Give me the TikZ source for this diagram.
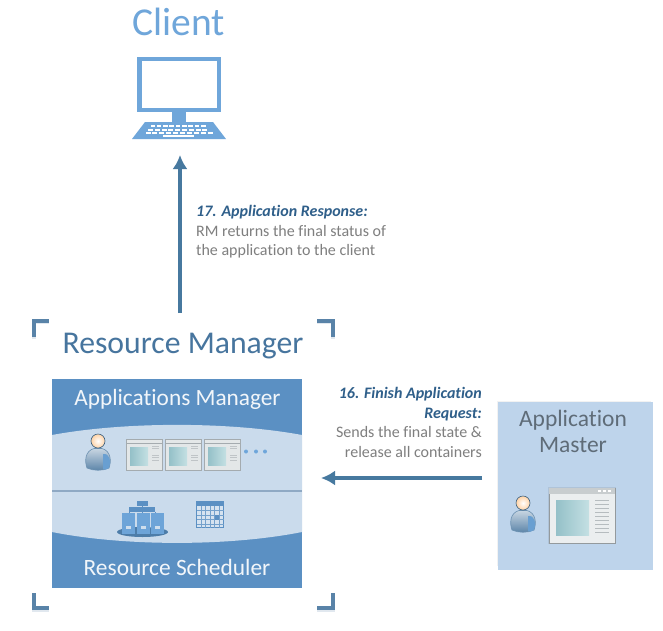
\documentclass[tikz,border=0pt]{standalone}
\usepackage{fontspec}
\setmainfont{Carlito}[Ligatures=NoCommon]
\usetikzlibrary{arrows.meta,shadings}
\definecolor{clientblue}{HTML}{6FA6DA}
\definecolor{rmtext}{HTML}{47759E}
\definecolor{boxblue}{HTML}{5B90C3}
\definecolor{boxlight}{HTML}{CADBEC}
\definecolor{divline}{HTML}{8FA9C4}
\definecolor{arrowblue}{HTML}{47799F}
\definecolor{amfill}{HTML}{BED4EB}
\definecolor{headtext}{HTML}{2F5F8A}
\definecolor{greytext}{HTML}{7F7F7F}
\definecolor{amtext}{HTML}{5F6C78}
\definecolor{winbg}{HTML}{E3E7E8}
\definecolor{winedge}{HTML}{A4ABAF}
\definecolor{tealdark}{HTML}{94C0C8}
\definecolor{teallight}{HTML}{C4E0E3}
\tikzset{
  bracket/.style={draw=rmtext!90,line width=3.6pt,line cap=butt,line join=miter},
  bracketshade/.style={draw=rmtext,line width=3.6pt,opacity=.16},
  flow/.style={draw=arrowblue,line width=3.6pt,-{Latex[length=14pt,width=15pt]}},
  callout/.style={inner sep=0pt,font=\fontsize{16}{19.6}\selectfont,text=greytext},
  person/.pic={
    \shade[draw=rmtext!80,line width=.6pt,top color=white!70!rmtext,bottom color=rmtext!90]
      (-11,27) .. controls (-13.5,20) and (-13,10) .. (-4,7.5) -- (4,7.5)
      .. controls (13,10) and (13.5,20) .. (11,27) .. controls (4,30) and (-4,30) .. (-11,27) -- cycle;
    \fill[clientblue!85!rmtext] (5,13) .. controls (12,12) and (13.5,21) .. (11,27) .. controls (9,29) and (6,29) .. (5,28) -- cycle;
    \shade[draw=rmtext!80!black,line width=.6pt,inner color=white,outer color=orange!35!white]
      (0,0) circle (7);
  },
  smallwin/.pic={
    \fill[black,opacity=.08] (-.5,-.5) rectangle (36.5,31.5);
    \filldraw[draw=winedge,fill=winbg,line width=.8pt] (0,0) rectangle (36,31);
    \draw[winedge,line width=.5pt] (0,4) -- (36,4);
    \shade[left color=tealdark,right color=teallight] (4,8) rectangle (22,26);
    \foreach \yy in {7,9.5,16,18.5,21}{\draw[winedge!70,line width=.7pt] (26,\yy) -- (33,\yy);}
  }
}
\begin{document}
\begin{tikzpicture}[x=1pt,y=-1pt]
\useasboundingbox (0,0) rectangle (663,630);
\fill[white] (0,0) rectangle (663,630);
% client
\node[inner sep=0pt,text=clientblue,font=\fontsize{39.5}{39}\selectfont] (clienttitle) at (178.5,22) {Client};
\filldraw[draw=clientblue,fill=white,line width=4.5pt,line join=miter] (139.5,59) rectangle (219,110);
\fill[clientblue] (172,112) rectangle (186,122);
\fill[clientblue] (145,122) -- (213,122) -- (226,139) -- (132,139) -- cycle;
\foreach \xx in {0,...,8}{
  \fill[white] (150.5+\xx*6.3,125) rectangle ++(4.6,2.2);
  \fill[white] (148+\xx*6.8,128.5) rectangle ++(5,2.2);
}
\foreach \xx in {0,...,9}{\fill[white] (145.5+\xx*6.9,132) rectangle ++(5,2);}
\fill[white] (163,135) rectangle (194,137);
\coordinate (clientbase) at (180,155);
% resource manager
\node[inner sep=0pt,text=rmtext,font=\fontsize{31.7}{32}\selectfont] (rmtitle) at (183,346) {Resource Manager};
\coordinate (rmtop) at (180,313);
\foreach \dy in {1.6}{
  \draw[bracketshade] (33.8,337+\dy) -- (33.8,320.8+\dy) -- (49,320.8+\dy);
  \draw[bracketshade] (317,320.8+\dy) -- (333.2,320.8+\dy) -- (333.2,337+\dy);
  \draw[bracketshade] (33.8,593+\dy) -- (33.8,608.2+\dy) -- (49,608.2+\dy);
  \draw[bracketshade] (317,608.2+\dy) -- (333.2,608.2+\dy) -- (333.2,593+\dy);
}
\draw[bracket] (33.8,337) -- (33.8,320.8) -- (49,320.8);
\draw[bracket] (317,320.8) -- (333.2,320.8) -- (333.2,337);
\draw[bracket] (33.8,593) -- (33.8,608.2) -- (49,608.2);
\draw[bracket] (317,608.2) -- (333.2,608.2) -- (333.2,593);
% rm box
\fill[boxblue] (52,379) rectangle (302,588);
\fill[boxlight] (52,435) .. controls (125,421.5) and (229,421.5) .. (302,435)
  -- (302,532) .. controls (229,546.5) and (125,546.5) .. (52,532) -- cycle;
\draw[divline,line width=1.3pt] (52,491) -- (302,491);
\node[inner sep=0pt,text=white!92!boxblue,font=\fontsize{23.3}{24}\selectfont] (apps) at (177.5,399) {Applications Manager};
\node[inner sep=0pt,text=white!92!boxblue,font=\fontsize{23.4}{24}\selectfont] (sched) at (177,567) {Resource Scheduler};
\pic at (98,441) {person};
\pic at (126,439) {smallwin};
\pic at (165,439) {smallwin};
\pic at (204,439) {smallwin};
\foreach \xx in {246,256,265}{\fill[clientblue] (\xx,451.5) circle (2);}
% servers
\fill[rmtext!70!boxblue] (142.5,532) ellipse (25.5 and 5);
\draw[boxblue,line width=1pt] (142,504) -- (142,512) (129,512) -- (129,516) (155,512) -- (155,516) (142,512) -- (142,516);
\fill[boxblue] (137,501) rectangle (148,506);
\fill[boxblue] (129,507) rectangle (155,512);
\foreach \xx in {122,137,151}{
  \fill[clientblue!90!boxblue] (\xx,513) rectangle ++(12.5,21);
  \fill[white!70!boxblue] (\xx+3.5,526) rectangle ++(5.5,3);
}
% calendar
\filldraw[draw=boxblue,fill=white!75!boxblue,line width=1.5pt] (196.5,502) rectangle (223.5,527.5);
\fill[boxblue] (196.5,502) rectangle (223.5,506);
\foreach \xx in {201,205.5,210,214.5,219}{\draw[boxblue!85,line width=.7pt] (\xx,506) -- (\xx,527.5);}
\foreach \yy in {510.5,515,519.5,524}{\draw[boxblue!85,line width=.7pt] (196.5,\yy) -- (223.5,\yy);}
\fill[boxblue] (214.5,515) rectangle (219,519.5);
% application master
\fill[black!5] (497,400.5) rectangle (651,566);
\fill[amfill] (498,402) rectangle (653,570);
\node[inner sep=0pt,align=center,text=amtext,font=\fontsize{23.5}{26}\selectfont] (am) at (573,431) {Application\\Master};
\coordinate (amleft) at (482,478);
\coordinate (rmright) at (321,478);
\pic at (523,503) {person};
\fill[black,opacity=.08] (548,487) rectangle (616,544);
\filldraw[draw=winedge!90!black,fill=winbg!70!white,line width=1pt] (549,488) rectangle (615,543);
\fill[winedge!60] (549,488) rectangle (615,494);
\foreach \xx in {598,603,608}{\fill[white] (\xx,490) rectangle ++(2.5,2);}
\shade[left color=tealdark,right color=teallight] (556,500) rectangle (589,535);
\foreach \yy in {500,504,508,512,516,520,524,528,532}{\draw[winedge!80,line width=.7pt] (595,\yy) -- (609,\yy);}
% callouts
\node[callout,anchor=north west,align=left] (resp) at (196,205)
  {\textcolor{headtext}{\bfseries\itshape 17. Application Response:}\\RM returns the final status of\\the application to the client};
\node[callout,anchor=north east,align=right] (finish) at (482,387)
  {\textcolor{headtext}{\bfseries\itshape 16. Finish Application}\\\textcolor{headtext}{\bfseries\itshape Request:}\\Sends the final state \&\\release all containers};
% connectors
\draw[flow] (rmtop) -- (clientbase);
\draw[flow] (amleft) -- (rmright);
\end{tikzpicture}
\end{document}
